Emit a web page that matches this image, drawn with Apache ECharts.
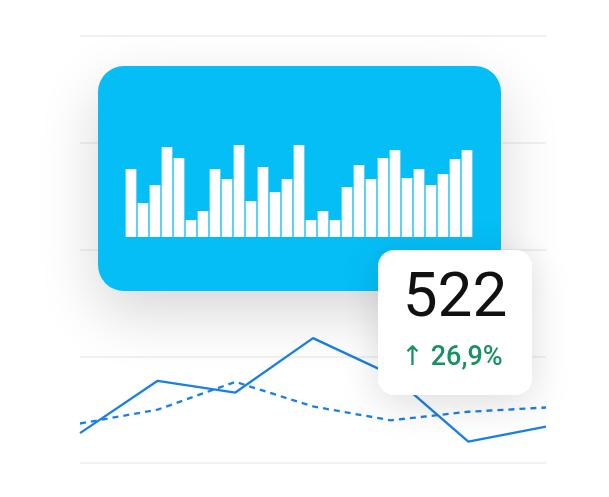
<!DOCTYPE html>
<html>
<head>
<meta charset="utf-8">
<script src="https://cdn.jsdelivr.net/npm/echarts@6/dist/echarts.min.js"></script>
<style>
  html, body { margin: 0; padding: 0; background: #fff; }
  #chart { width: 609px; height: 497px; }
</style>
</head>
<body>
<div id="chart"></div>
<script>
// bars inside the blue card
var barValues = [68, 34, 52, 90, 79, 17, 26, 68, 58, 92, 36, 70, 45, 58, 92,
  17, 26, 17, 50, 72, 58, 79, 87, 59, 68, 52, 63, 78, 87];
var barCats = barValues.map(function (v, i) { return i + 1; });

// line chart behind
var lineCats = ["1", "2", "3", "4", "5", "6", "7"];
var solidValues = [28, 77, 66, 117, 83, 20, 34];
var dashedValues = [37, 50, 76, 53, 40, 48, 52];

var kpiValue = "522";
var kpiChange = "↑ 26,9%";

var chart = echarts.init(document.getElementById("chart"));
chart.setOption({
  animation: false,
  grid: [
    { left: 80, right: 63, top: 36, bottom: 34 },
    { left: 125, width: 348, top: 137, bottom: 260 }
  ],
  xAxis: [
    {
      gridIndex: 0, type: "category", data: lineCats, boundaryGap: false,
      axisLine: { show: false }, axisTick: { show: false }, axisLabel: { show: false }
    },
    {
      gridIndex: 1, type: "category", data: barCats,
      axisLine: { show: false }, axisTick: { show: false }, axisLabel: { show: false }
    }
  ],
  yAxis: [
    {
      gridIndex: 0, type: "value", min: 0, max: 400, interval: 100,
      axisLine: { show: false }, axisTick: { show: false }, axisLabel: { show: false },
      splitLine: { lineStyle: { color: "#ececec", width: 1.5 } }
    },
    {
      gridIndex: 1, type: "value", min: 0, max: 100,
      axisLine: { show: false }, axisTick: { show: false }, axisLabel: { show: false },
      splitLine: { show: false }
    }
  ],
  graphic: [
    {
      type: "rect", z: 5,
      shape: { x: 98, y: 66, width: 403, height: 225, r: 26 },
      style: {
        fill: "#05bef6",
        shadowBlur: 60, shadowOffsetY: 22, shadowColor: "rgba(0,0,0,0.16)"
      }
    },
    {
      type: "rect", z: 20,
      shape: { x: 378, y: 250, width: 154, height: 145, r: 16 },
      style: {
        fill: "#fff",
        shadowBlur: 40, shadowOffsetY: 8, shadowColor: "rgba(0,0,0,0.14)"
      }
    },
    {
      type: "text", z: 21,
      x: 455, y: 300,
      style: {
        text: kpiValue, fill: "#111", font: "400 62px Roboto",
        textAlign: "center", textVerticalAlign: "middle"
      }
    },
    {
      type: "text", z: 21,
      x: 452, y: 358,
      style: {
        text: kpiChange, fill: "#1a9160", font: "500 27px Roboto, 'DejaVu Sans'",
        textAlign: "center", textVerticalAlign: "middle"
      }
    }
  ],
  series: [
    {
      type: "line", xAxisIndex: 0, yAxisIndex: 0, z: 1,
      data: solidValues, symbol: "none",
      lineStyle: { color: "#1a80e4", width: 2.3 }
    },
    {
      type: "line", xAxisIndex: 0, yAxisIndex: 0, z: 1,
      data: dashedValues, symbol: "none",
      lineStyle: { color: "#1a80e4", width: 2.3, type: [6, 5] }
    },
    {
      type: "bar", xAxisIndex: 1, yAxisIndex: 1, z: 10,
      data: barValues, barCategoryGap: "11%",
      itemStyle: { color: "#fff" }
    }
  ]
});
</script>
</body>
</html>
